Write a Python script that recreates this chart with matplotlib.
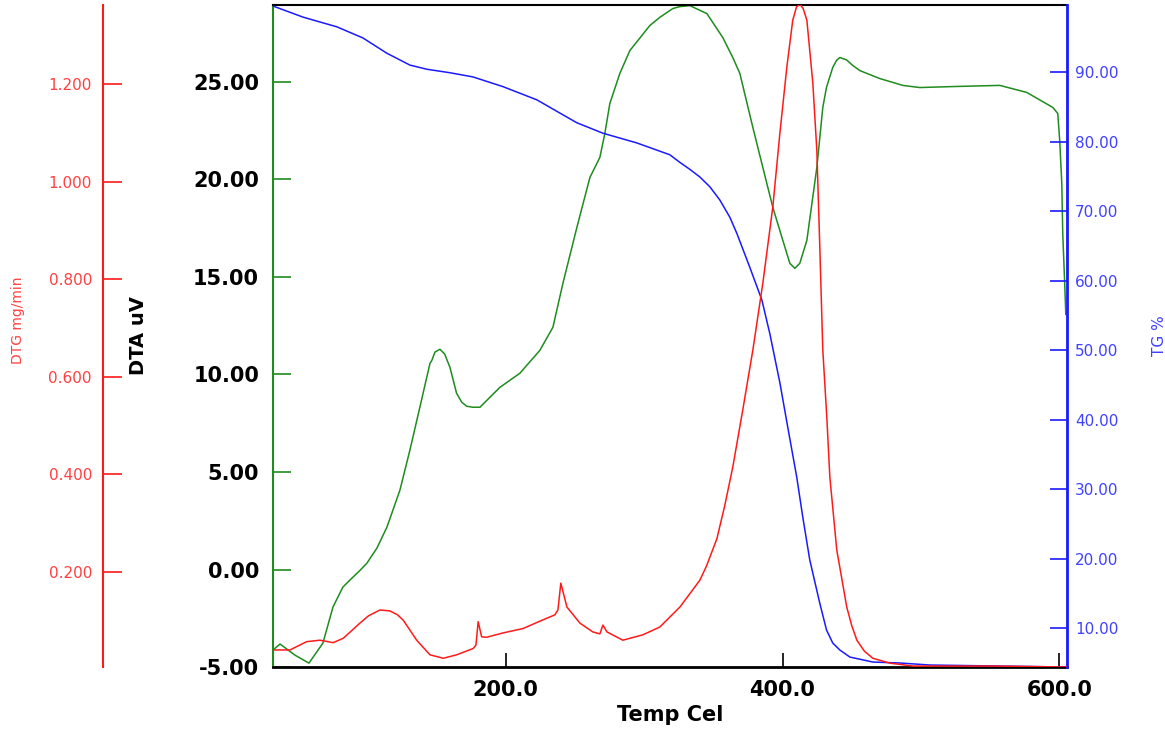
# TG / DTA / DTG thermal analysis plot
import numpy as np
import matplotlib.pyplot as plt
from matplotlib.ticker import FormatStrFormatter

# DTA (uV) vs temperature
dta_temp = [32.0, 37.1, 47.9, 58.0, 68.1, 75.3, 82.5, 87.6, 94.8, 99.9, 107.1, 114.3, 123.7,
            130.9, 138.1, 145.4, 146.8, 149.0, 152.6, 156.0, 159.8, 164.6, 168.2, 171.9,
            176.4, 181.5, 195.9, 210.3, 224.8, 234.2, 241.4, 251.5, 260.9, 268.1, 271.7,
            275.3, 282.5, 289.8, 304.2, 311.4, 320.8, 325.9, 333.1, 345.4, 356.9, 364.1,
            369.2, 378.6, 385.8, 393.0, 400.2, 405.3, 408.9, 412.5, 417.6, 424.8, 429.1,
            431.8, 436.3, 439.0, 441.4, 446.2, 450.8, 455.8, 470.3, 486.9, 499.1, 522.9,
            556.9, 576.4, 595.2, 598.8, 600.2, 601.7, 602.4, 603.8, 604.6]
dta_uv = [-4.13, -3.82, -4.39, -4.80, -3.77, -1.93, -0.90, -0.54, -0.05, 0.33, 1.10, 2.17, 4.07,
          6.12, 8.32, 10.57, 10.73, 11.15, 11.29, 11.05, 10.37, 9.04, 8.59, 8.37,
          8.32, 8.32, 9.34, 10.06, 11.24, 12.42, 14.67, 17.54, 20.10, 21.13, 22.36,
          23.89, 25.43, 26.61, 27.89, 28.31, 28.76, 28.86, 28.91, 28.50, 27.27, 26.25,
          25.43, 22.66, 20.61, 18.57, 16.88, 15.70, 15.44, 15.70, 16.88, 20.61, 23.69,
          24.73, 25.74, 26.10, 26.25, 26.13, 25.84, 25.58, 25.17, 24.82, 24.71, 24.76,
          24.82, 24.46, 23.69, 23.38, 22.00, 19.80, 17.23, 14.67, 13.08]

# TG (%) vs temperature
tg_temp = [32.0, 53.7, 78.2, 97.0, 114.3, 130.9, 143.2, 159.8, 176.4, 198.1, 222.6, 239.2,
           251.5, 270.3, 294.8, 318.6, 325.9, 333.1, 340.3, 347.5, 354.7, 362.0, 367.0,
           376.4, 385.1, 390.8, 398.1, 403.8, 410.3, 414.7, 419.7, 426.9, 431.8, 436.3,
           441.4, 448.6, 465.2, 484.7, 506.4, 605.3]
tg_pct = [99.5, 97.9, 96.5, 94.9, 92.7, 91.0, 90.4, 89.9, 89.3, 87.9, 86.0, 84.1,
          82.7, 81.2, 79.8, 78.1, 77.0, 76.0, 74.9, 73.5, 71.6, 69.1, 66.8,
          61.9, 57.2, 52.4, 45.3, 38.9, 31.7, 25.9, 19.8, 13.6, 9.72, 7.85,
          6.85, 5.84, 5.12, 4.98, 4.69, 4.40]

# DTG (mg/min) vs temperature
dtg_temp = [32.0, 32.2, 44.3, 56.3, 65.9, 75.5, 82.8, 94.8, 101.0, 109.3, 116.5, 122.0, 126.1,
            135.8, 145.4, 155.0, 164.6, 176.6, 178.6, 180.2, 182.7, 186.3, 198.3, 212.7,
            224.8, 235.6, 237.8, 239.9, 244.3, 253.7, 263.0, 268.1, 270.3, 273.2, 284.7,
            299.1, 311.4, 325.9, 333.0, 340.3, 345.1, 352.6, 358.3, 364.1, 371.3, 378.6,
            385.8, 393.0, 398.1, 403.1, 407.4, 410.1, 412.5, 414.9, 417.6, 421.9, 424.8,
            427.0, 429.1, 432.0, 434.2, 439.2, 446.4, 450.0, 453.7, 459.0, 465.2, 477.5,
            494.1, 551.9, 605.3]
dtg_rate = [0.077, 0.040, 0.040, 0.057, 0.060, 0.055, 0.064, 0.095, 0.110, 0.122, 0.120, 0.112,
            0.101, 0.060, 0.030, 0.023, 0.030, 0.043, 0.050, 0.098, 0.067, 0.066, 0.075,
            0.084, 0.099, 0.112, 0.122, 0.177, 0.128, 0.095, 0.077, 0.073, 0.091, 0.077,
            0.060, 0.071, 0.087, 0.128, 0.155, 0.183, 0.212, 0.268, 0.336, 0.415, 0.532,
            0.655, 0.792, 0.948, 1.099, 1.234, 1.331, 1.358, 1.364, 1.355, 1.331, 1.202,
            1.064, 0.860, 0.655, 0.517, 0.394, 0.245, 0.128, 0.090, 0.060, 0.038, 0.023,
            0.013, 0.007, 0.007, 0.005]

x_ticks = [200, 400, 600]
dta_ticks = [-5, 0, 5, 10, 15, 20, 25]
dtg_ticks = [0.2, 0.4, 0.6, 0.8, 1.0, 1.2]
tg_ticks = [10, 20, 30, 40, 50, 60, 70, 80, 90]

GREEN = '#1e8c1e'
RED = '#ff1a1a'
BLUE = '#1a1aff'
RED_TXT = '#ff4040'
BLUE_TXT = '#4040ff'

fig = plt.figure(figsize=(11.65, 7.40), dpi=100)
ax = fig.add_axes([0.2343, 0.0986, 0.6815, 0.8946])
ax_tg = ax.twinx()
ax_dtg = ax.twinx()

# DTA on main axis
ax.plot(dta_temp, dta_uv, color=GREEN, lw=1.1)
ax.set_xlim(32, 605.4)
ax.set_ylim(-5, 28.94)
ax.set_xticks(x_ticks)
ax.xaxis.set_major_formatter(FormatStrFormatter('%.1f'))
ax.set_yticks(dta_ticks)
ax.yaxis.set_major_formatter(FormatStrFormatter('%.2f'))
ax.tick_params(axis='x', direction='in', length=10, width=1.2, color='black', pad=9,
               labelsize=15)
ax.tick_params(axis='y', direction='in', length=13, width=1.2, color=GREEN, pad=10,
               labelsize=15)
for lab in ax.get_xticklabels() + ax.get_yticklabels():
    lab.set_fontweight('bold')
ax.set_xlabel('Temp Cel', fontsize=15, fontweight='bold')
ax.set_ylabel('DTA uV', fontsize=14, fontweight='bold')
ax.yaxis.set_label_coords(-0.157, 0.5)
ax.spines['left'].set_color(GREEN)
ax.spines['left'].set_linewidth(1.5)
ax.spines['bottom'].set_linewidth(2)
ax.spines['top'].set_linewidth(1.5)
ax.spines['right'].set_visible(False)

# TG on right axis
ax_tg.plot(tg_temp, tg_pct, color=BLUE, lw=1.1)
ax_tg.set_ylim(4.4, 99.64)
ax_tg.set_yticks(tg_ticks)
ax_tg.yaxis.set_major_formatter(FormatStrFormatter('%.2f'))
ax_tg.tick_params(axis='y', direction='in', length=12, width=1.2, color=BLUE,
                  labelcolor=BLUE_TXT, labelsize=11, pad=6)
ax_tg.set_ylabel('TG %', color=BLUE_TXT, fontsize=11)
ax_tg.yaxis.set_label_coords(1.107, 0.5)
for s in ['left', 'top', 'bottom']:
    ax_tg.spines[s].set_visible(False)
ax_tg.spines['right'].set_color(BLUE)
ax_tg.spines['right'].set_linewidth(2)

# DTG on offset left axis
ax_dtg.plot(dtg_temp, dtg_rate, color=RED, lw=1.1)
ax_dtg.set_ylim(0.005, 1.362)
ax_dtg.set_yticks(dtg_ticks)
ax_dtg.yaxis.set_major_formatter(FormatStrFormatter('%.3f'))
ax_dtg.yaxis.set_ticks_position('left')
ax_dtg.yaxis.set_label_position('left')
ax_dtg.spines['left'].set_position(('axes', -0.214))
for s in ['right', 'top', 'bottom']:
    ax_dtg.spines[s].set_visible(False)
ax_dtg.spines['left'].set_visible(True)
ax_dtg.spines['left'].set_color(RED)
ax_dtg.spines['left'].set_linewidth(1.5)
ax_dtg.tick_params(axis='y', direction='in', length=14, width=1.2, color=RED,
                   labelcolor=RED_TXT, labelsize=11, pad=8)
ax_dtg.set_ylabel('DTG mg/min', color=RED_TXT, fontsize=10)
ax_dtg.yaxis.set_label_coords(-0.312, 0.524)

fig.savefig('out.png', dpi=100)
